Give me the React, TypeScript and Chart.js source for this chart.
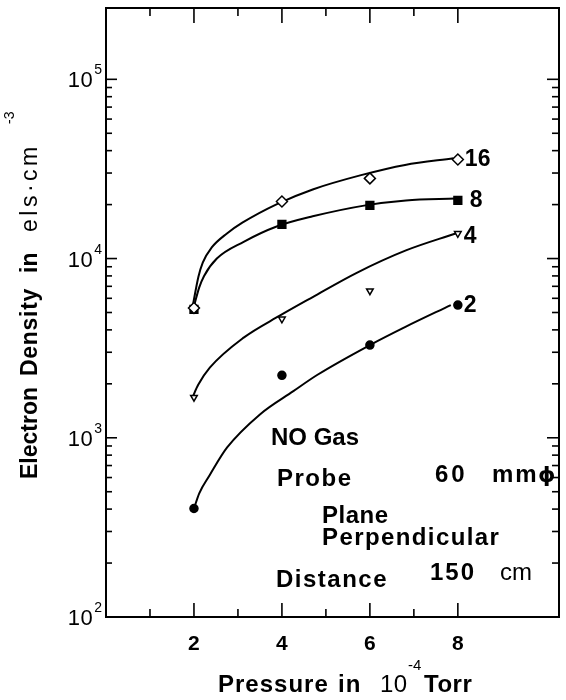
import React, { useEffect, useRef } from "react";
import { Chart, registerables } from "chart.js";

Chart.register(...registerables);

// ---- data ----
const pressures = [2, 4, 6, 8];
const density16 = [5300, 20800, 28000, 35700];
const density8 = [5200, 15500, 19800, 21100];
const density4 = [1680, 4600, 6600, 13800];
const density2 = [403, 2230, 3290, 5500];

// hand-drawn fitted curves
const fit16X = [1.97, 2.1, 2.2, 2.4, 2.75, 3.1, 3.9, 4.7, 5.8, 6.8, 7.9];
const fit16Y = [5400, 7900, 9500, 11500, 13800, 15850, 20200, 24300, 29200, 33300, 36300];
const fit8X = [1.99, 2.12, 2.23, 2.52, 3.13, 3.88, 4.7, 5.9, 6.82, 7.95];
const fit8Y = [5300, 6900, 8000, 10000, 12400, 15100, 17200, 19800, 21100, 21600];
const fit4X = [1.96, 2.1, 2.36, 3.13, 3.95, 4.7, 5.69, 6.82, 7.95];
const fit4Y = [1670, 1980, 2460, 3620, 4800, 6100, 8300, 11100, 13800];
const fit2X = [2.0, 2.12, 2.36, 2.75, 3.5, 4.26, 4.8, 6.0, 6.82, 7.84];
const fit2Y = [403, 490, 620, 880, 1350, 1820, 2240, 3290, 4170, 5500];

const seriesLabels = ["16", "8", "4", "2"];
const xTickLabels = [2, 4, 6, 8];
const xTickValues = [1, 2, 3, 4, 5, 6, 7, 8];
const yDecades = [100, 1000, 10000, 100000];
const yExponents = ["2", "3", "4", "5"];
const yMinorFactors = [2, 3, 4, 5, 6, 7, 8, 9];

const FONT = '"Liberation Sans", Arial, Helvetica, sans-serif';

const pts = (xs: number[], ys: number[]) => xs.map((x, i) => ({ x, y: ys[i] }));

function txt(ctx: CanvasRenderingContext2D, s: string, x: number, y: number, size: number, bold = true, spacing = 0, align: CanvasTextAlign = "left", family = FONT) {
  ctx.font = `${bold ? "bold " : ""}${size}px ${family}`;
  (ctx as any).letterSpacing = `${spacing}px`;
  ctx.textAlign = align;
  ctx.textBaseline = "alphabetic";
  ctx.fillText(s, x, y);
  (ctx as any).letterSpacing = "0px";
}

const framePlugin = {
  id: "frame",
  afterDatasetsDraw(chart: any) {
    const { ctx, chartArea: a, scales } = chart;
    const xs = scales.x;
    const ys = scales.y;
    ctx.save();
    ctx.fillStyle = "#000";
    ctx.strokeStyle = "#000";
    ctx.lineWidth = 2;
    ctx.strokeRect(a.left, a.top, a.right - a.left, a.bottom - a.top);
    const line = (x1: number, y1: number, x2: number, y2: number) => {
      ctx.beginPath();
      ctx.moveTo(x1, y1);
      ctx.lineTo(x2, y2);
      ctx.stroke();
    };
    ctx.lineWidth = 1.6;
    // x ticks (bottom pointing up, top pointing down)
    xTickValues.forEach((v) => {
      const px = xs.getPixelForValue(v);
      const major = v % 2 === 0;
      line(px, a.bottom, px, a.bottom - (major ? 14 : 8));
      line(px, a.top, px, a.top + (major ? 15 : 8));
    });
    // y ticks
    yDecades.forEach((d, i) => {
      const py = ys.getPixelForValue(d);
      line(a.left, py, a.left + 11, py);
      line(a.right, py, a.right - 12, py);
      if (i < yDecades.length - 1) {
        yMinorFactors.forEach((m) => {
          const pm = ys.getPixelForValue(d * m);
          line(a.left, pm, a.left + 6, pm);
          line(a.right, pm, a.right - 7, pm);
        });
      }
    });
    // y tick labels 10^n
    yDecades.forEach((d, i) => {
      const py = ys.getPixelForValue(d);
      const supRight = a.left - 4;
      ctx.font = `14px ${FONT}`;
      const supW = ctx.measureText(yExponents[i]).width;
      txt(ctx, yExponents[i], supRight, py - 5, 14, false, 0, "right");
      txt(ctx, "10", supRight - supW - 1, py + 8, 22, false, 0.5, "right");
    });
    // x tick labels
    xTickLabels.forEach((v) => {
      const px = xs.getPixelForValue(v);
      txt(ctx, String(v), px, 650, 21, true, 0, "center");
    });
    // x title
    txt(ctx, "Pressure", 218, 692, 24, true, 1);
    txt(ctx, "in", 338, 692, 24, true, 1);
    txt(ctx, "10", 380, 692, 24, false, 0.5);
    txt(ctx, "-4", 408, 670, 15, false, 0);
    txt(ctx, "Torr", 424, 692, 24, true, 0.5);
    // y title (rotated)
    ctx.save();
    ctx.translate(37, 479);
    ctx.rotate(-Math.PI / 2);
    txt(ctx, "Electron", 0, 0, 23, true, 0);
    txt(ctx, "Density", 103, 0, 23, true, 0.7);
    txt(ctx, "in", 206, 0, 23, true, 0);
    txt(ctx, "els·cm", 247, 0, 23, false, 3.5);
    txt(ctx, "-3", 355, -23, 14, false, 0);
    ctx.restore();
    // series labels next to last points
    const lastIdx = pressures.length - 1;
    const series = [density16, density8, density4, density2];
    const offs = [[7, 7], [12, 7], [6, 10], [6, 7]];
    series.forEach((s, i) => {
      const px = xs.getPixelForValue(pressures[lastIdx]);
      const py = ys.getPixelForValue(s[lastIdx]);
      txt(ctx, seriesLabels[i], px + offs[i][0], py + offs[i][1], 23, true, 0);
    });
    // annotations
    txt(ctx, "NO Gas", 271, 445, 24, true, 0);
    txt(ctx, "Probe", 277, 486, 24, true, 1.5);
    txt(ctx, "60", 435, 482, 24, true, 3);
    txt(ctx, "mm", 492, 482, 24, true, 2);
    txt(ctx, "ϕ", 538, 482, 22, true, 0, "left", '"DejaVu Sans", sans-serif');
    txt(ctx, "Plane", 322, 523, 24, true, 0.5);
    txt(ctx, "Perpendicular", 322, 545, 24, true, 1.4);
    txt(ctx, "Distance", 276, 587, 24, true, 1.5);
    txt(ctx, "150", 430, 580, 24, true, 2);
    txt(ctx, "cm", 500, 580, 24, false, 0);
    ctx.restore();
  },
};

export default function App() {
  const ref = useRef<HTMLCanvasElement>(null);
  useEffect(() => {
    if (!ref.current) return;
    const curve = (xs: number[], ys: number[]) => ({
      data: pts(xs, ys),
      showLine: true,
      borderColor: "#000",
      borderWidth: 2,
      pointRadius: 0,
      cubicInterpolationMode: "monotone" as const,
      order: 1,
      clip: false as any,
    });
    const marks = (ys: number[], style: string, radius: number, filled: boolean, rot = 0) => ({
      data: pressures.map((x, i) => ({ x, y: ys[i] })),
      showLine: false,
      pointStyle: style,
      pointRadius: radius,
      pointRotation: rot,
      pointBackgroundColor: filled ? "#000" : "#fff",
      pointBorderColor: "#000",
      pointBorderWidth: 1.5,
      order: 0,
      clip: false as any,
    });
    const chart = new Chart(ref.current, {
      type: "scatter",
      data: {
        datasets: [
          marks(density16, "rectRot", 5.5, false),
          marks(density8, "rect", 5.5, true),
          marks(density4, "triangle", 3.8, false, 180),
          marks(density2, "circle", 4, true),
          curve(fit16X, fit16Y),
          curve(fit8X, fit8Y),
          curve(fit4X, fit4Y),
          curve(fit2X, fit2Y),
        ] as any,
      },
      options: {
        animation: false,
        responsive: false,
        devicePixelRatio: 1,
        layout: { padding: { left: 106, right: 3, top: 8, bottom: 83 } },
        plugins: { legend: { display: false }, tooltip: { enabled: false } },
        scales: {
          x: { type: "linear", min: 0, max: 10.3, display: false },
          y: { type: "logarithmic", min: 100, max: 250000, display: false },
        },
      },
      plugins: [framePlugin],
    });
    return () => chart.destroy();
  }, []);
  return (
    <div style={{ position: "absolute", left: 0, top: 0, width: 566, height: 700, background: "#fff" }}>
      <canvas ref={ref} width={566} height={700} style={{ display: "block", width: 566, height: 700 }} />
    </div>
  );
}
